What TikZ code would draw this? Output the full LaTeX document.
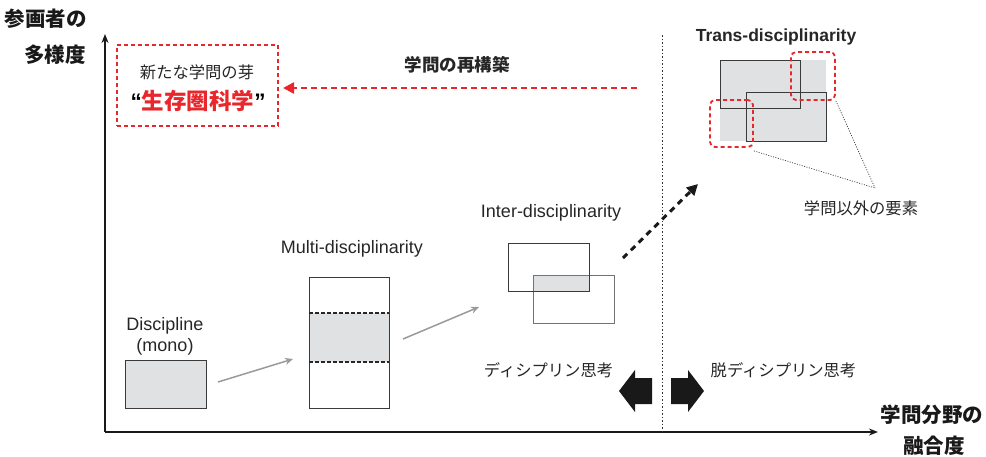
\documentclass[tikz,border=0pt]{standalone}
\usepackage{fontspec}
\setmainfont{Liberation Sans}
\newfontfamily\jp{Noto Sans CJK JP}
\usetikzlibrary{arrows.meta}
\definecolor{redc}{HTML}{E8262B}
\definecolor{fillg}{HTML}{E0E1E3}
\definecolor{lineg}{HTML}{3A3A3A}
\definecolor{arrg}{HTML}{9A9A9A}
\tikzset{
  lbl/.style={inner sep=0pt, font=\fontsize{18}{21}\selectfont, text=black!85},
  jlbl/.style={inner sep=0pt, font=\jp\fontsize{16.3}{20}\selectfont, text=black!85},
  axlbl/.style={inner sep=0pt, font=\jp\bfseries\fontsize{20.5}{24}\selectfont, text=black!90, align=center},
  boxg/.style={draw=lineg, line width=1pt},
  grayarr/.style={draw=arrg, line width=1.5pt, -{Stealth[length=8pt,width=7pt]}},
  reddash/.style={draw=redc, line width=1.8pt, dash pattern=on 4pt off 3pt},
}
\begin{document}
\begin{tikzpicture}[x=1pt,y=-1pt]
\useasboundingbox (0,0) rectangle (986,456);
% axes
\coordinate (o) at (105,432);
\coordinate (ytop) at (105,34);
\coordinate (xend) at (878,432);
\draw[line width=1.6pt, black!90, -{Stealth[length=9pt,width=7pt]}] (o) -- (ytop);
\draw[line width=1.6pt, black!90, -{Stealth[length=9pt,width=7pt]}] (o) -- (xend);
\node[axlbl] (ylab1) at (46,19) {参画者の};
\node[axlbl] (ylab2) at (55,55) {多様度};
\node[axlbl] (xlab1) at (932,415) {学問分野の};
\node[axlbl] (xlab2) at (934,446) {融合度};
% dotted separator
\coordinate (sepT) at (662,35);
\coordinate (sepB) at (662,432);
\draw[black!80, line width=0.9pt, dash pattern=on 1.5pt off 2pt] (sepT) -- (sepB);
% red dashed box
\node[reddash, minimum width=161pt, minimum height=81pt, inner sep=0pt] (seed) at (197.5,85.5) {};
\node[jlbl] (seedt) at (197,72) {新たな学問の芽};
\node[inner sep=0pt] (seedn) at (198,101) {\bfseries\fontsize{22.5}{26}\selectfont “\textcolor{redc}{\jp 生存圏科学}”};
% red dashed arrow
\coordinate (rA) at (637,88);
\coordinate (rB) at (283,88);
\draw[draw=redc, line width=2.5pt, dash pattern=on 6pt off 4pt, -{Triangle[length=11pt,width=11pt]}] (rA) -- (rB);
\node[inner sep=0pt, font=\jp\bfseries\fontsize{17.5}{20}\selectfont, text=black!85] (recon) at (457,65) {学問の再構築};
% Discipline
\node[lbl] (disclab) at (165,326) {Discipline};
\node[lbl] (discmono) at (165,347) {(mono)};
\node[boxg, fill=fillg, minimum width=81pt, minimum height=48pt, inner sep=0pt] (disc) at (165.5,384) {};
% arrow 1
\coordinate (a1s) at (218,382);
\coordinate (a1e) at (293,359);
\draw[grayarr] (a1s) -- (a1e);
% Multi
\node[lbl] (multilab) at (352,249) {Multi-disciplinarity};
\fill[fillg] (309,313) rectangle (389,362);
\node[boxg, minimum width=80pt, minimum height=131pt, inner sep=0pt] (multi) at (349,342.5) {};
\coordinate (d1a) at (309,313); \coordinate (d1b) at (389,313);
\coordinate (d2a) at (309,362); \coordinate (d2b) at (389,362);
\draw[black!85, line width=1.5pt, dash pattern=on 3.5pt off 2.5pt] (d1a) -- (d1b);
\draw[black!85, line width=1.5pt, dash pattern=on 3.5pt off 2.5pt] (d2a) -- (d2b);
% arrow 2
\coordinate (a2s) at (403,339);
\coordinate (a2e) at (479,307);
\draw[grayarr] (a2s) -- (a2e);
% Inter
\node[lbl] (interlab) at (551,213) {Inter-disciplinarity};
\fill[fillg] (533,275) rectangle (589,291);
\node[draw=black!55, line width=1pt, minimum width=81pt, minimum height=48pt, inner sep=0pt] (interB) at (573.5,299) {};
\node[boxg, minimum width=81pt, minimum height=48pt, inner sep=0pt] (interA) at (548.5,267) {};
% dashed black arrow
\coordinate (bs) at (623,258);
\coordinate (be) at (698,184);
\draw[black!90, line width=3pt, dash pattern=on 6pt off 5pt, -{Triangle[length=11pt,width=11pt]}] (bs) -- (be);
% Trans
\node[inner sep=0pt, font=\bfseries\fontsize{17.5}{20}\selectfont, text=black!85] (translab) at (776,37) {Trans-disciplinarity};
\fill[fillg] (720,60) rectangle (826,141);
\node[boxg, minimum width=80pt, minimum height=48pt, inner sep=0pt] (t1) at (760,84) {};
\node[boxg, minimum width=80pt, minimum height=49pt, inner sep=0pt] (t2) at (786,116.5) {};
\node[draw=redc, line width=1.8pt, dash pattern=on 4pt off 3pt, rounded corners=5pt, minimum width=44pt, minimum height=48pt, inner sep=0pt] (r1) at (813,76) {};
\node[draw=redc, line width=1.8pt, dash pattern=on 4pt off 3pt, rounded corners=5pt, minimum width=43pt, minimum height=47pt, inner sep=0pt] (r2) at (731.5,123.5) {};
\coordinate (cp) at (875,188);
\draw[black!80, line width=0.7pt, dash pattern=on 1pt off 1.5pt] (r2.south east) ++(0,3) -- (cp);
\draw[black!80, line width=0.7pt, dash pattern=on 1pt off 1.5pt] (r1.south east) -- (cp);
\node[jlbl] (other) at (861,208) {学問以外の要素};
% thinking labels
\node[jlbl] (think) at (548.5,370) {ディシプリン思考};
\node[jlbl] (dthink) at (783.5,370) {脱ディシプリン思考};
% block arrows
\fill[black!90] (619,391) -- (635,370) -- (635,378) -- (652,378) -- (652,404) -- (635,404) -- (635,412) -- cycle;
\fill[black!90] (704,391) -- (688,370) -- (688,378) -- (671,378) -- (671,404) -- (688,404) -- (688,412) -- cycle;
\end{tikzpicture}
\end{document}
